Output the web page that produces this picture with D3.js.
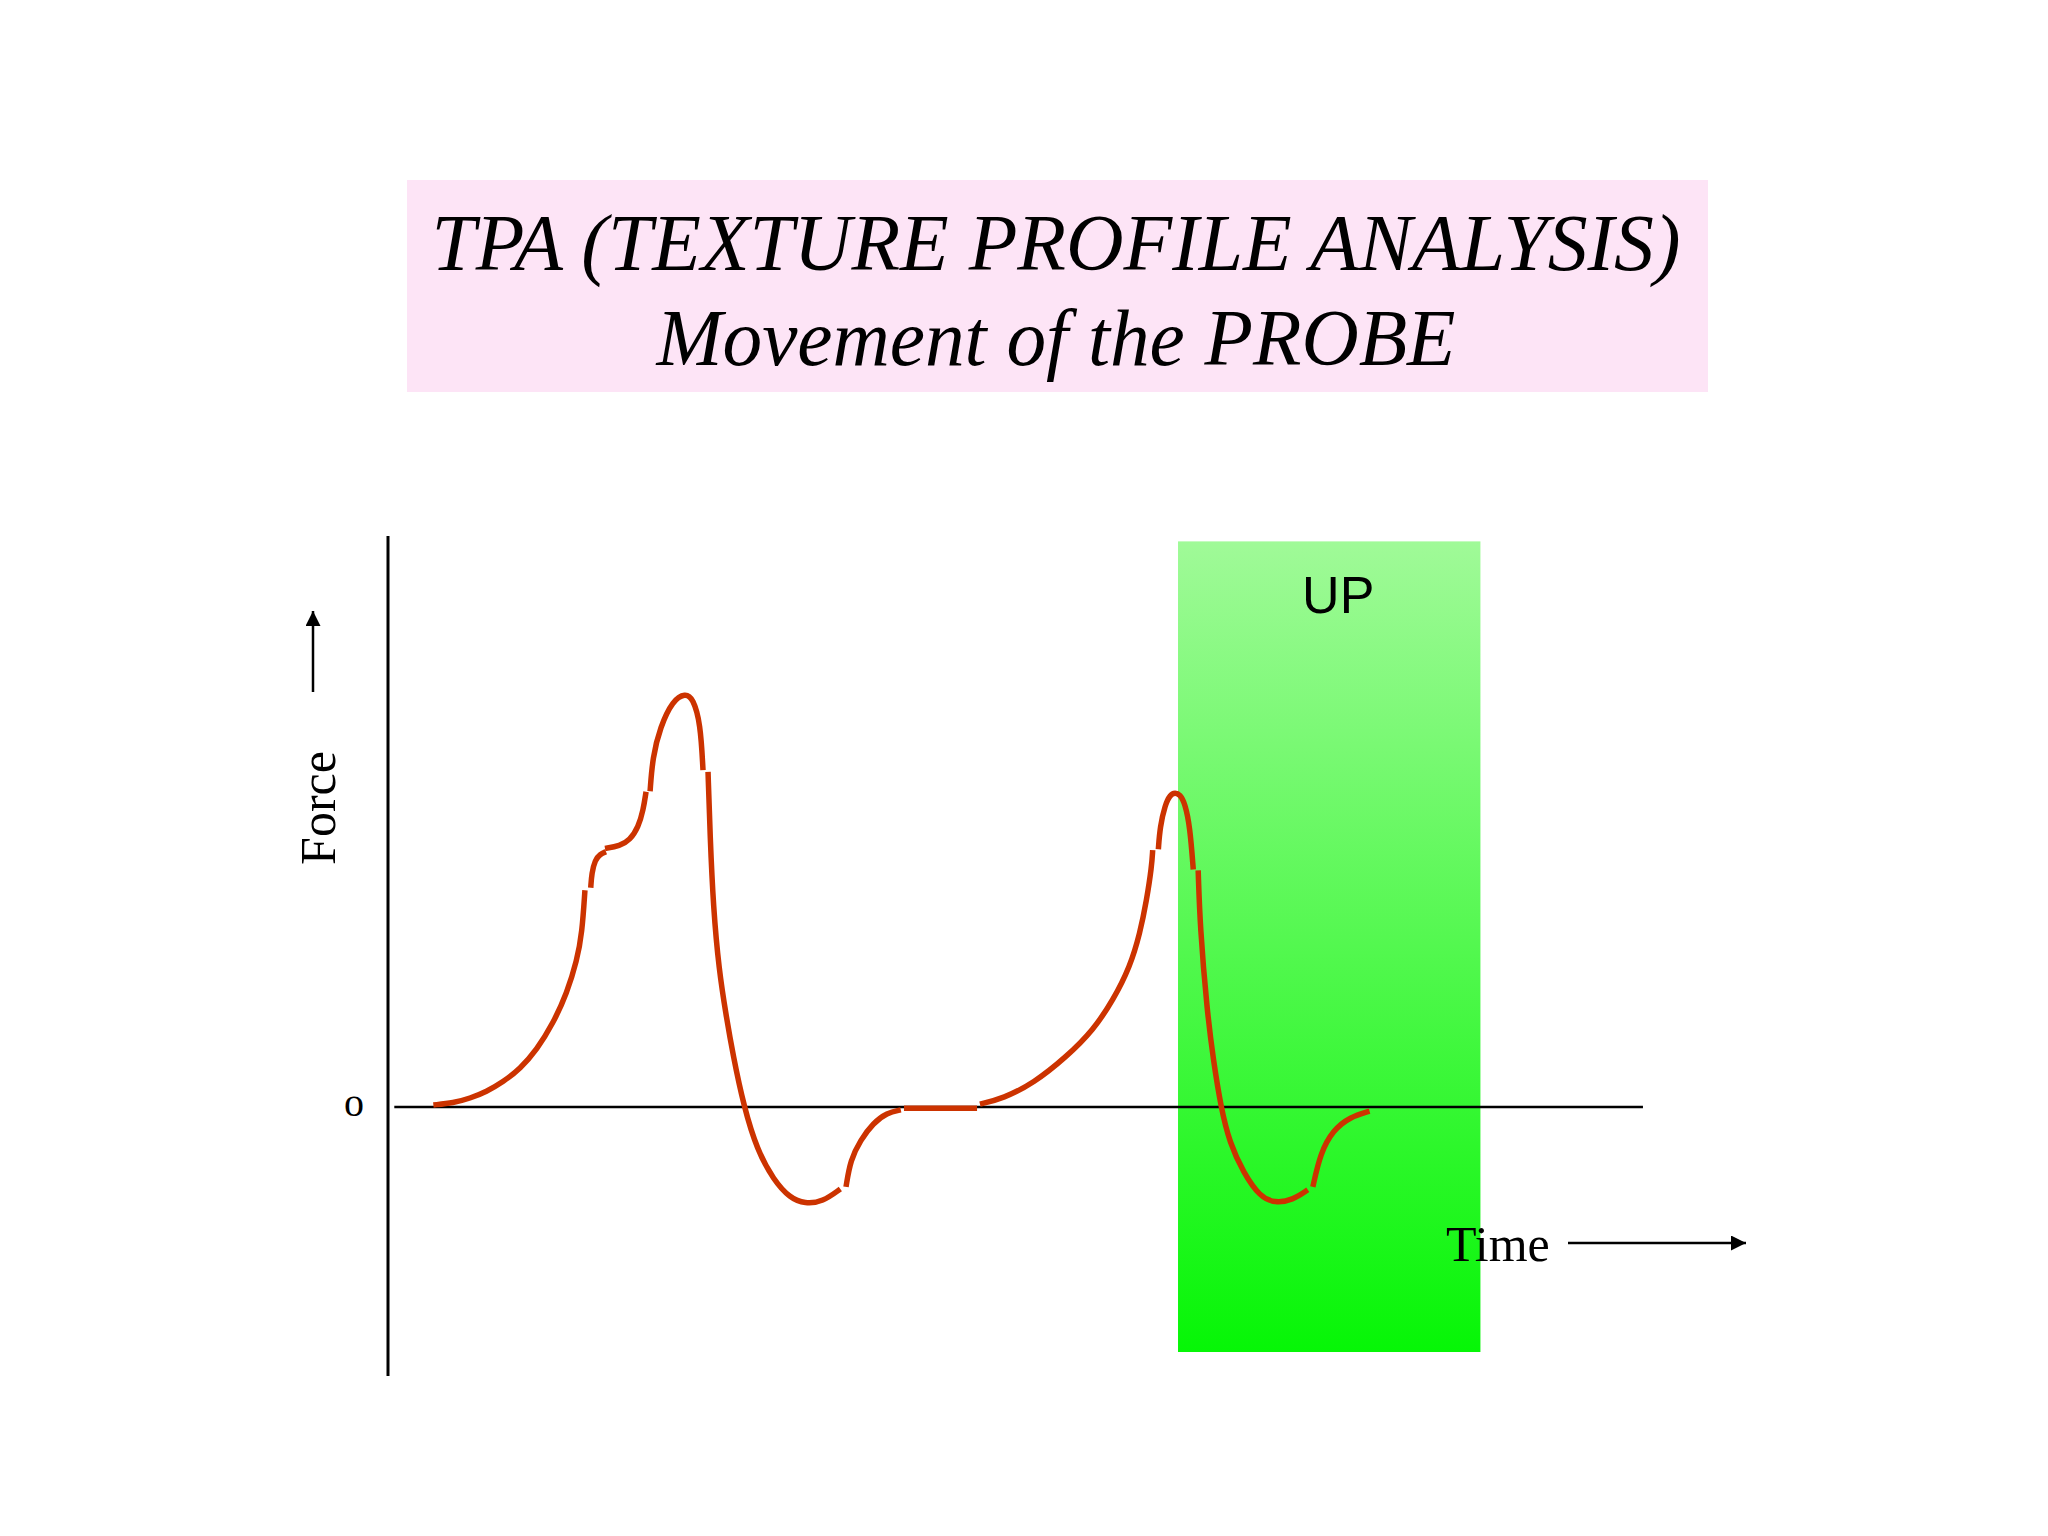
<!DOCTYPE html>
<html>
<head>
<meta charset="utf-8">
<script src="https://cdn.jsdelivr.net/npm/d3@7"></script>
<style>
  body { margin: 0; background: #ffffff; }
  .axisLine { stroke: #000000; }
  .probe { fill: none; stroke: #cc3300; stroke-width: 5.5; stroke-linecap: butt; }
</style>
</head>
<body>
<div id="plot1"></div>
<script>
// Title texts
var titleLines = ["TPA (TEXTURE PROFILE ANALYSIS)", "Movement of the PROBE"];

// Probe force curve as [time, force] pairs.
// The curve is drawn in pieces, just like the original slide.
var firstRise = [[3.6, 0.5], [5.2, 1.0], [6.5, 2.1], [7.8, 3.7], [9.15, 6.1], [10.5, 9.3], [11.8, 13.8], [13.1, 20.2], [14.2, 27.5], [15.0, 35.5], [15.4, 42.0], [15.63, 52.4]];
var firstShoulder = [[16.09, 53.0], [16.17, 56.5], [16.43, 59.7], [16.83, 61.1], [17.3, 61.7]];
var firstKnee = [[17.22, 62.5], [18.4, 63.1], [19.2, 64.5], [19.87, 67.7], [20.26, 71.8], [20.48, 76.2]];
var firstPeak = [[20.8, 76.3], [21.0, 84.5], [21.6, 91.8], [22.6, 98.3], [23.6, 100], [24.2, 98.8], [24.8, 92.8], [25.0, 81.4]];
var firstFall = [[25.4, 81.0], [25.56, 65.7], [25.82, 48.1], [26.27, 33.1], [26.83, 22.2], [27.38, 12.6], [28.25, 0], [29.3, -10.4], [30.6, -17.6], [31.9, -22.0], [33.1, -23.4], [34.5, -22.9], [35.9, -19.8]];
var firstReturn = [[36.35, -19.3], [36.7, -12.8], [37.5, -8.0], [38.5, -3.9], [39.6, -1.4], [40.7, -0.7]];
var restFlat = [[40.95, -0.3], [46.75, -0.3]];
var secondRise = [[46.98, 0.7], [48.83, 2.1], [51.21, 5.7], [53.87, 12.2], [55.98, 18.6], [57.56, 25.9], [58.89, 33.9], [59.68, 42.0], [60.21, 50.0], [60.61, 58.1], [60.69, 62.1]];
var secondPeak = [[61.14, 62.3], [61.27, 67.7], [61.67, 73.0], [62.06, 75.4], [62.46, 76.0], [62.86, 75.5], [63.25, 73.4], [63.65, 67.7], [63.91, 57.4]];
var secondFall = [[64.3, 57.2], [64.45, 43.5], [65.0, 23.4], [65.5, 11.4], [66.1, 0], [66.8, -8.7], [67.9, -15.9], [69.2, -21.7], [70.4, -23.2], [71.8, -22.5], [73.0, -20.0]];
var secondReturn = [[73.4, -19.3], [74.0, -11.1], [75.0, -5.6], [76.35, -2.4], [77.9, -1.0]];

var probeSegments = [firstRise, firstShoulder, firstKnee, firstPeak, firstFall, firstReturn,
  restFlat, secondRise, secondPeak, secondFall, secondReturn];

// "UP" phase of the probe: time span and force span of the green band
var upTime = [62.7, 86.7];
var upForce = [-59.2, 136.7];

// Define SVG area dimensions
var svgWidth = 2048;
var svgHeight = 1536;

var svg = d3.select("#plot1")
  .append("svg")
  .attr("width", svgWidth)
  .attr("height", svgHeight);

// Scales: time left to right, force bottom to top
var xScale = d3.scaleLinear()
  .domain([0, 100])
  .range([388, 1648]);

var yScale = d3.scaleLinear()
  .domain([-65, 138])
  .range([1376, 536]);

// Title box
var titleGroup = svg.append("g");

titleGroup.append("rect")
  .attr("x", 407)
  .attr("y", 180)
  .attr("width", 1301)
  .attr("height", 212)
  .attr("fill", "#fde4f6");

titleGroup.append("text")
  .attr("x", 1056)
  .attr("y", 270)
  .attr("text-anchor", "middle")
  .attr("font-family", "'Liberation Serif', 'Times New Roman', serif")
  .attr("font-style", "italic")
  .attr("font-size", 80)
  .attr("textLength", 1249)
  .attr("lengthAdjust", "spacingAndGlyphs")
  .text(titleLines[0]);

titleGroup.append("text")
  .attr("x", 1056)
  .attr("y", 365)
  .attr("text-anchor", "middle")
  .attr("font-family", "'Liberation Serif', 'Times New Roman', serif")
  .attr("font-style", "italic")
  .attr("font-size", 80)
  .attr("textLength", 799)
  .attr("lengthAdjust", "spacingAndGlyphs")
  .text(titleLines[1]);

// Green gradient for the UP band
var defs = svg.append("defs");
var grad = defs.append("linearGradient")
  .attr("id", "upGrad")
  .attr("x1", 0).attr("y1", 0)
  .attr("x2", 0).attr("y2", 1);
grad.append("stop").attr("offset", "0%").attr("stop-color", "#a0fa98");
grad.append("stop").attr("offset", "100%").attr("stop-color", "#06f606");

svg.append("rect")
  .attr("x", xScale(upTime[0]))
  .attr("y", yScale(upForce[1]))
  .attr("width", xScale(upTime[1]) - xScale(upTime[0]))
  .attr("height", yScale(upForce[0]) - yScale(upForce[1]))
  .attr("fill", "url(#upGrad)");

svg.append("text")
  .attr("x", xScale((upTime[0] + upTime[1]) / 2) + 9)
  .attr("y", 613)
  .attr("text-anchor", "middle")
  .attr("font-family", "'Liberation Sans', Arial, sans-serif")
  .attr("font-size", 52)
  .text("UP");

// Axes: vertical force axis and the zero line
svg.append("line")
  .classed("axisLine", true)
  .attr("x1", xScale(0)).attr("x2", xScale(0))
  .attr("y1", yScale(138)).attr("y2", yScale(-65))
  .attr("stroke-width", 3);

svg.append("line")
  .classed("axisLine", true)
  .attr("x1", xScale(0.5)).attr("x2", xScale(99.6))
  .attr("y1", yScale(0)).attr("y2", yScale(0))
  .attr("stroke-width", 2.5);

// Arrow marker for the axis labels
defs.append("marker")
  .attr("id", "arrowHead")
  .attr("viewBox", "0 0 10 10")
  .attr("refX", 10)
  .attr("refY", 5)
  .attr("markerWidth", 6)
  .attr("markerHeight", 6)
  .attr("markerUnits", "strokeWidth")
  .attr("orient", "auto")
  .append("path")
  .attr("d", "M0,0 L10,5 L0,10 Z")
  .attr("fill", "#000");

// Force label with its arrow
svg.append("text")
  .attr("transform", "translate(335, 808) rotate(-90)")
  .attr("text-anchor", "middle")
  .attr("font-family", "'Liberation Serif', 'Times New Roman', serif")
  .attr("font-size", 50)
  .text("Force");

svg.append("line")
  .attr("x1", 313).attr("x2", 313)
  .attr("y1", 692).attr("y2", 611)
  .attr("stroke", "#000")
  .attr("stroke-width", 2.5)
  .attr("marker-end", "url(#arrowHead)");

// zero label
svg.append("text")
  .attr("x", 354)
  .attr("y", yScale(0) + 9)
  .attr("text-anchor", "middle")
  .attr("font-family", "'Liberation Serif', 'Times New Roman', serif")
  .attr("font-size", 40)
  .text("o");

// Time label with its arrow
svg.append("text")
  .attr("x", 1446)
  .attr("y", 1261)
  .attr("font-family", "'Liberation Serif', 'Times New Roman', serif")
  .attr("font-size", 50)
  .text("Time");

svg.append("line")
  .attr("x1", 1568).attr("x2", 1746)
  .attr("y1", 1243).attr("y2", 1243)
  .attr("stroke", "#000")
  .attr("stroke-width", 2.5)
  .attr("marker-end", "url(#arrowHead)");

// Probe curve pieces
var drawLine = d3.line()
  .x(d => xScale(d[0]))
  .y(d => yScale(d[1]))
  .curve(d3.curveBasis);

svg.append("g")
  .selectAll("path")
  .data(probeSegments)
  .enter()
  .append("path")
  .classed("probe", true)
  .attr("d", d => drawLine(d));
</script>
</body>
</html>
